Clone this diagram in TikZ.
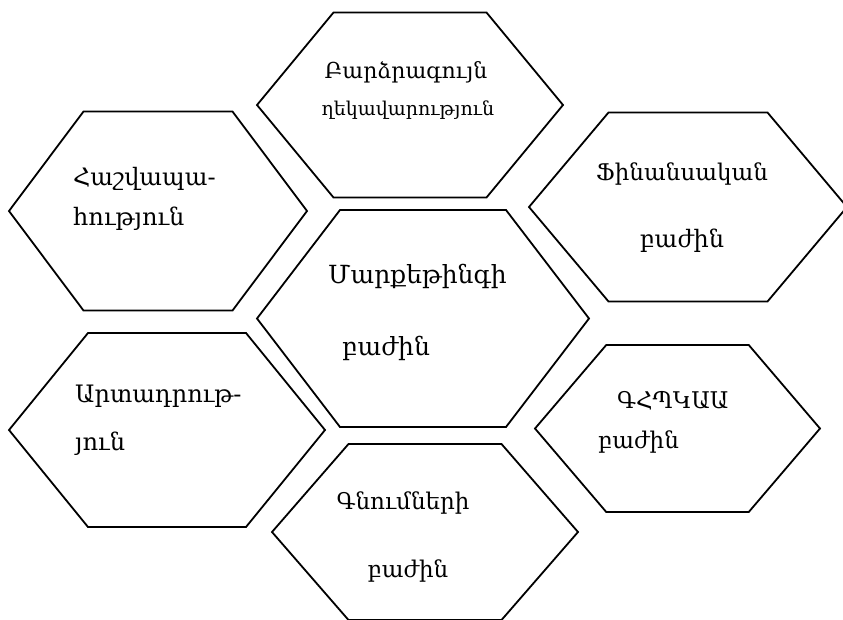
\documentclass[tikz,border=0pt]{standalone}
\usepackage{fontspec}
\setmainfont{DejaVu Serif}
\usepackage{tikz}

\begin{document}
\begin{tikzpicture}[x=1pt, y=-1pt, cell/.style={draw=black, line width=1.8pt, line join=miter}, lbl/.style={inner sep=0pt, font=\fontsize{24}{28}\selectfont}, lbls/.style={inner sep=0pt, font=\fontsize{19}{23}\selectfont}]
	\useasboundingbox (0,0) rectangle (843,619);
	% cells: centre x / centre y / half width / half height
	\foreach \cx/\cy/\w/\h in {410/105/153/92.5, 158/211/149/99.5, 688/207/159/94.5, 423/318.5/166/108.5, 167/430/158/97, 677.5/428.5/142.5/83.5, 425/532/153/88} {
		\draw[cell] ({\cx-\w},\cy) -- ({\cx-\w/2},{\cy-\h}) -- ({\cx+\w/2},{\cy-\h}) -- ({\cx+\w},\cy) -- ({\cx+\w/2},{\cy+\h}) -- ({\cx-\w/2},{\cy+\h}) -- cycle;
	}
	\node[lbl, font=\fontsize{22}{26}\selectfont, anchor=base] (mgmt1) at (406,78) {Բարձրագույն};
	\node[lbls, anchor=base] (mgmt2) at (408,115) {ղեկավարություն};
	\node[lbl, anchor=base west] (acc1) at (73,185) {Հաշվապա-};
	\node[lbl, anchor=base west] (acc2) at (73,225) {հություն};
	\node[lbl, font=\fontsize{23}{27}\selectfont, anchor=base] (fin1) at (682,180) {Ֆինանսական};
	\node[lbl, anchor=base] (fin2) at (682,247) {բաժին};
	\node[lbl, font=\fontsize{25}{29}\selectfont, anchor=base west] (mkt1) at (328,283) {Մարքեթինգի};
	\node[lbl, font=\fontsize{25}{29}\selectfont, anchor=base west] (mkt2) at (342,355) {բաժին};
	\node[lbl, anchor=base west] (prod1) at (75,402) {Արտադրութ-};
	\node[lbl, anchor=base west] (prod2) at (75,450) {յուն};
	\node[lbl, font=\fontsize{23}{27}\selectfont, anchor=base west] (rnd1) at (617,408) {ԳՀՊԿԱԱ};
	\node[lbl, font=\fontsize{23}{27}\selectfont, anchor=base west] (rnd2) at (598,448) {բաժին};
	\node[lbl, font=\fontsize{23}{27}\selectfont, anchor=base] (buy1) at (403,509) {Գնումների};
	\node[lbl, font=\fontsize{23}{27}\selectfont, anchor=base] (buy2) at (408,577) {բաժին};
\end{tikzpicture}
\end{document}
